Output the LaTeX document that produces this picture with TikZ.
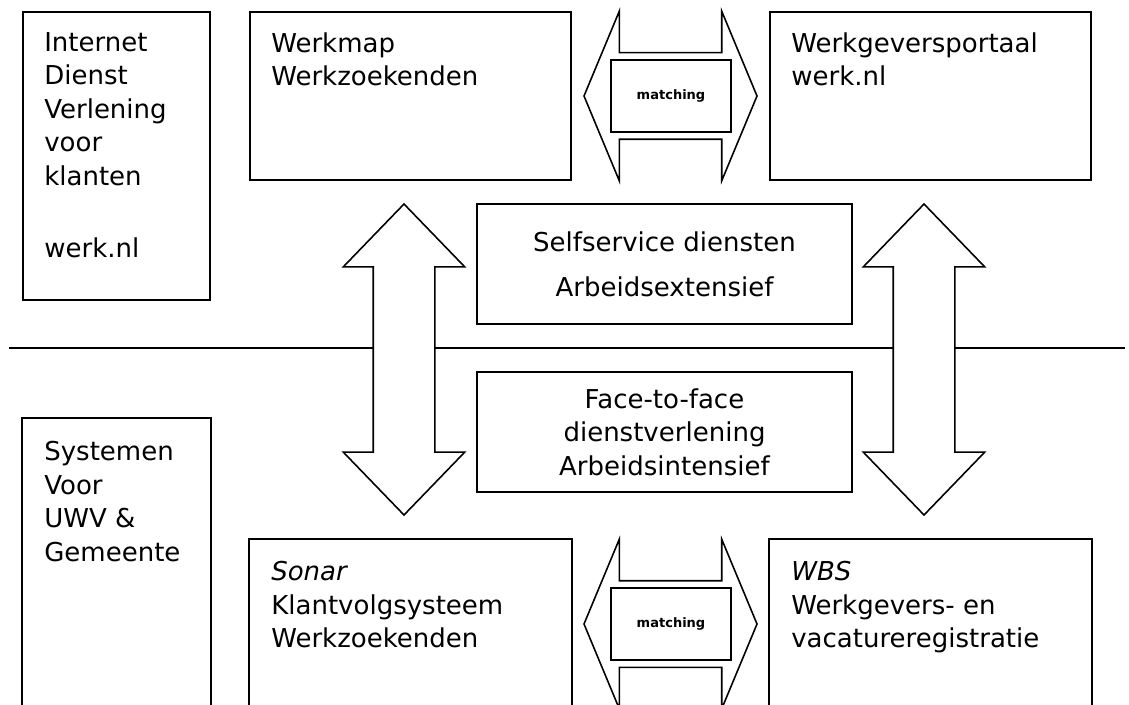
\documentclass[tikz,border=0pt]{standalone}
\usepackage{fontspec}
\setmainfont{DejaVu Sans}
\usetikzlibrary{shapes.arrows,positioning}

\tikzset{
  vak/.style={draw, line width=1.2pt, inner sep=0pt},
  tekst/.style={inner sep=0pt, align=left, font=\fontsize{14.8}{19.1}\selectfont},
  midtekst/.style={align=center, font=\fontsize{14.8}{19.1}\selectfont},
  blokpijl/.style={shape=double arrow, draw, fill=white, line width=0.9pt,
    inner xsep=0pt, minimum width=0pt},
  matchvak/.style={vak, fill=white, minimum width=2.40cm, minimum height=1.44cm,
    font=\fontsize{7.4}{9}\selectfont\bfseries}
}

\begin{document}
\begin{tikzpicture}[x=1cm,y=1cm]
\useasboundingbox (0,0) rectangle (22.58,14.08);

\coordinate (lijnL) at (0.18,7.12);
\coordinate (lijnR) at (22.50,7.12);
\draw[line width=1.3pt] (lijnL) -- (lijnR);

\node[blokpijl, rotate=90, minimum height=6.22cm, inner ysep=0.60cm,
  double arrow head extend=0.60cm, double arrow tip angle=88] (pijlL) at (8.08,6.89) {};
\node[blokpijl, rotate=90, minimum height=6.22cm, inner ysep=0.60cm,
  double arrow head extend=0.60cm, double arrow tip angle=88] (pijlR) at (18.48,6.89) {};

\node[vak, minimum width=3.74cm, minimum height=5.76cm] (idv) at (2.33,10.96) {};
\node[vak, draw=none, minimum width=3.74cm, minimum height=5.70cm] (sys) at (2.33,2.85) {};
\draw[line width=1.2pt] (sys.south west) |- (sys.north east) -- (sys.south east);

\node[vak, minimum width=6.42cm, minimum height=3.36cm] (werkmap) at (8.21,12.16) {};
\node[vak, minimum width=6.42cm, minimum height=3.36cm] (portaal) at (18.61,12.16) {};
\node[vak, draw=none, minimum width=6.42cm, minimum height=3.28cm] (sonar) at (8.21,1.64) {};
\node[vak, draw=none, minimum width=6.42cm, minimum height=3.28cm] (wbs) at (18.61,1.64) {};
\draw[line width=1.2pt] (sonar.south west) |- (sonar.north east) -- (sonar.south east);
\draw[line width=1.2pt] (wbs.south west) |- (wbs.north east) -- (wbs.south east);

\node[vak, midtekst, minimum width=7.50cm, minimum height=2.40cm] (self) at (13.29,8.80)
  {Selfservice diensten\\[6.7pt]Arbeidsextensief};
\node[vak, midtekst, minimum width=7.50cm, minimum height=2.40cm] (f2f) at (13.29,5.44)
  {Face-to-face\\dienstverlening\\Arbeidsintensief};

\node[blokpijl, minimum height=3.46cm, inner ysep=0.85cm,
  double arrow head extend=0.83cm, double arrow tip angle=134.8] (matchpijlT) at (13.41,12.16) {};
\node[blokpijl, minimum height=3.46cm, inner ysep=0.85cm,
  double arrow head extend=0.83cm, double arrow tip angle=134.8] (matchpijlB) at (13.41,1.60) {};
\node[matchvak] (matchT) at (13.42,12.16) {matching};
\node[matchvak] (matchB) at (13.42,1.60) {matching};

\node[tekst, below right=0.42cm and 0.44cm of idv.north west] (idvtxt)
  {Internet\\Dienst\\Verlening\\voor\\klanten\\[22pt]werk.nl};
\node[tekst, below right=0.46cm and 0.44cm of sys.north west] (systxt)
  {Systemen\\Voor\\UWV \&\\Gemeente};
\node[tekst, below right=0.42cm and 0.44cm of werkmap.north west] (werkmaptxt)
  {Werkmap\\Werkzoekenden};
\node[tekst, below right=0.42cm and 0.44cm of portaal.north west] (portaaltxt)
  {Werkgeversportaal\\werk.nl};
\node[tekst, below right=0.44cm and 0.44cm of sonar.north west] (sonartxt)
  {\textit{Sonar}\\Klantvolgsysteem\\Werkzoekenden};
\node[tekst, below right=0.44cm and 0.44cm of wbs.north west] (wbstxt)
  {\textit{WBS}\\Werkgevers- en\\vacatureregistratie};
\end{tikzpicture}
\end{document}
